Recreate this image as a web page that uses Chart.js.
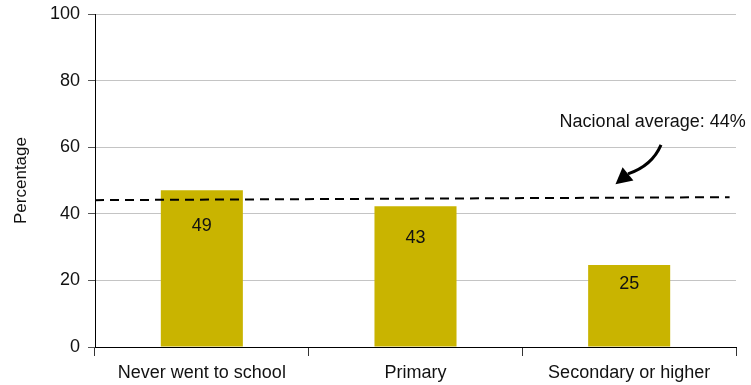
<!DOCTYPE html>
<html>
<head>
<meta charset="utf-8">
<script src="https://cdn.jsdelivr.net/npm/chart.js@4/dist/chart.umd.min.js"></script>
<style>
  html, body { margin: 0; padding: 0; background: #fff; }
  #wrap { width: 751px; height: 385px; }
</style>
</head>
<body>
<div id="wrap"><canvas id="eduChart" width="751" height="385"></canvas></div>
<script>
// data
const categories = ["Never went to school", "Primary", "Secondary or higher"];
const barValues = [47.1, 42.3, 24.6];
const barLabels = ["49", "43", "25"];
const avgLine = [44.1, 45.0];          // dashed line, left end / right end
const avgSpan = [0, 0.99];             // horizontal extent on a 0..1 axis
const avgText = "Nacional average: 44%";
const yTicks = [0, 20, 40, 60, 80, 100];

Chart.defaults.font.family = "'Liberation Sans', Arial, sans-serif";
Chart.defaults.color = "#111";

// value labels inside bars + the annotation arrow
const extras = {
  id: "extras",
  afterDatasetsDraw(chart) {
    const ctx = chart.ctx;
    const meta = chart.getDatasetMeta(0);
    ctx.save();
    ctx.fillStyle = "#111";
    ctx.font = "18px 'Liberation Sans', Arial, sans-serif";
    ctx.textAlign = "center";
    ctx.textBaseline = "middle";
    meta.data.forEach((bar, i) => {
      const h = bar.base - bar.y;
      ctx.fillText(barLabels[i], bar.x, bar.y + h * 0.23);
    });

    const xs = chart.scales.xl, ys = chart.scales.y;
    const px = v => xs.getPixelForValue(v);
    const py = v => ys.getPixelForValue(v);
    ctx.fillText(avgText, px(0.87), py(67.6));

    // curved arrow
    const start = [px(0.883), py(60.7)];
    const ctrl = [px(0.869), py(54.4)];
    const base = [px(0.8315), py(52.0)];
    const tip = [px(0.812), py(48.9)];
    ctx.strokeStyle = "#000";
    ctx.lineWidth = 3;
    ctx.beginPath();
    ctx.moveTo(start[0], start[1]);
    ctx.quadraticCurveTo(ctrl[0], ctrl[1], base[0], base[1]);
    ctx.stroke();
    const dx = tip[0] - base[0], dy = tip[1] - base[1];
    const len = Math.hypot(dx, dy);
    const nx = -dy / len, ny = dx / len;
    const hw = 8.5;
    ctx.fillStyle = "#000";
    ctx.beginPath();
    ctx.moveTo(tip[0], tip[1]);
    ctx.lineTo(base[0] + nx * hw, base[1] + ny * hw);
    ctx.lineTo(base[0] - nx * hw, base[1] - ny * hw);
    ctx.closePath();
    ctx.fill();
    ctx.restore();
  }
};

new Chart(document.getElementById("eduChart").getContext("2d"), {
  type: "bar",
  data: {
    labels: categories,
    datasets: [
      {
        type: "bar",
        data: barValues,
        backgroundColor: "#C9B400",
        borderWidth: 0,
        grouped: false,
        barPercentage: 0.384,
        categoryPercentage: 1,
        xAxisID: "x",
        yAxisID: "y",
        order: 2
      },
      {
        type: "line",
        data: avgSpan.map((x, i) => ({ x: x, y: avgLine[i] })),
        borderColor: "#000",
        borderWidth: 2,
        borderDash: [9, 6],
        pointRadius: 0,
        fill: false,
        xAxisID: "xl",
        yAxisID: "y",
        order: 1
      }
    ]
  },
  options: {
    responsive: false,
    animation: false,
    layout: { padding: { top: 14, right: 15, left: 0, bottom: 0 } },
    plugins: {
      legend: { display: false },
      tooltip: { enabled: false }
    },
    scales: {
      x: {
        type: "category",
        offset: true,
        grid: { offset: true, drawOnChartArea: false, drawTicks: true, tickLength: 9, tickColor: "#333" },
        border: { color: "#000", width: 1 },
        ticks: { font: { size: 18 }, padding: 6, color: "#111", maxRotation: 0 },
        afterFit: s => { s.height = 38; s.paddingLeft = 0; s.paddingRight = 0; }
      },
      xl: {
        type: "linear",
        min: 0,
        max: 1,
        offset: false,
        grid: { offset: false },
        display: false
      },
      y: {
        min: 0,
        max: 100,
        afterBuildTicks: s => { s.ticks = yTicks.map(v => ({ value: v })); },
        ticks: { font: { size: 18 }, padding: 8, color: "#111" },
        grid: { color: "#c4c4c4", tickColor: "#555", tickLength: 7 },
        border: { color: "#000", width: 1 },
        title: {
          display: true,
          text: "Percentage",
          font: { size: 17 },
          color: "#111",
          padding: { top: 11, bottom: 0 }
        },
        afterFit: s => { s.width = 95; s.paddingTop = 0; s.paddingBottom = 0; }
      }
    }
  },
  plugins: [extras]
});
</script>
</body>
</html>
